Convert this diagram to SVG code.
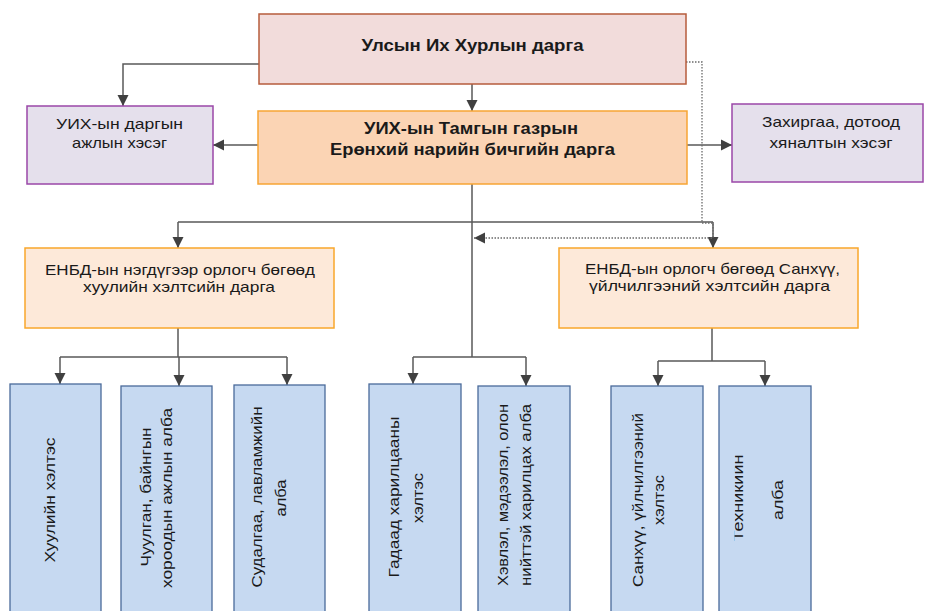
<svg xmlns="http://www.w3.org/2000/svg" width="925" height="611" viewBox="0 0 925 611">
<style>
text{font-family:"Liberation Sans",Arial,sans-serif;fill:#1a1a1a;text-anchor:middle}
.b{font-weight:bold;font-size:16px}
.n{font-size:15px}
.r{font-size:15px}
.top{fill:#f2dcdb;stroke:#b65c3c;stroke-width:1.5}
.sec{fill:#fbd4b4;stroke:#f7a534;stroke-width:1.5}
.pur{fill:#e5e0ec;stroke:#9a47a8;stroke-width:1.5}
.org{fill:#fde9d9;stroke:#f9a72b;stroke-width:1.5}
.blu{fill:#c6d9f1;stroke:#4a6a9a;stroke-width:1.3}
.ln{fill:none;stroke:#595959;stroke-width:1.5}
.dot{fill:none;stroke:#6a6a6a;stroke-width:1.3;stroke-dasharray:1.5 1.5}
</style>
<defs>
<marker id="ah" markerUnits="userSpaceOnUse" markerWidth="12" markerHeight="12" refX="11" refY="6" orient="auto">
<path d="M0,0.5 L11,6 L0,11.5 z" fill="#404040"/>
</marker>
<clipPath id="clipT" clipPathUnits="userSpaceOnUse"><rect x="734.5" y="380" width="30" height="240"/></clipPath>
</defs>

<g id="connectors">
<path class="ln" d="M472,84 V111" marker-end="url(#ah)"/>
<path class="ln" d="M259,64 H123 V106" marker-end="url(#ah)"/>
<path class="ln" d="M258,145 H213" marker-end="url(#ah)"/>
<path class="ln" d="M687,145 H732" marker-end="url(#ah)"/>
<path class="ln" d="M472,184 V357"/>
<path class="ln" d="M178,222 H713"/>
<path class="ln" d="M178,222 V248" marker-end="url(#ah)"/>
<path class="ln" d="M713,222 V248" marker-end="url(#ah)"/>
<path class="ln" d="M178,328 V357"/>
<path class="ln" d="M60,357 H287"/>
<path class="ln" d="M60,357 V384" marker-end="url(#ah)"/>
<path class="ln" d="M179,357 V386" marker-end="url(#ah)"/>
<path class="ln" d="M287,357 V385" marker-end="url(#ah)"/>
<path class="ln" d="M413,357 H526"/>
<path class="ln" d="M413,357 V384" marker-end="url(#ah)"/>
<path class="ln" d="M526,357 V386" marker-end="url(#ah)"/>
<path class="ln" d="M712,328 V361"/>
<path class="ln" d="M658,361 H765"/>
<path class="ln" d="M658,361 V386" marker-end="url(#ah)"/>
<path class="ln" d="M765,361 V386" marker-end="url(#ah)"/>
<path class="dot" d="M686,62 H702 V223 H713 V238 H474" marker-end="url(#ah)"/>
</g>

<g id="chairman">
<rect class="top" x="259" y="14" width="427" height="70"/>
<text class="b" x="472.5" y="51" textLength="222" lengthAdjust="spacingAndGlyphs">Улсын Их Хурлын дарга</text>
</g>

<g id="secretary-general">
<rect class="sec" x="258" y="111" width="429" height="73"/>
<text class="b" x="471" y="134" textLength="214" lengthAdjust="spacingAndGlyphs">УИХ-ын Тамгын газрын</text>
<text class="b" x="472.5" y="155" textLength="285" lengthAdjust="spacingAndGlyphs">Ерөнхий нарийн бичгийн дарга</text>
</g>

<g id="chair-working-group">
<rect class="pur" x="27" y="106" width="186" height="78"/>
<text class="n" x="119.5" y="129" textLength="127" lengthAdjust="spacingAndGlyphs">УИХ-ын даргын</text>
<text class="n" x="119.5" y="148" textLength="95" lengthAdjust="spacingAndGlyphs">ажлын хэсэг</text>
</g>

<g id="admin-control">
<rect class="pur" x="732" y="104" width="191" height="78"/>
<text class="n" x="831" y="127" textLength="138" lengthAdjust="spacingAndGlyphs">Захиргаа, дотоод</text>
<text class="n" x="831" y="148" textLength="123" lengthAdjust="spacingAndGlyphs">хяналтын хэсэг</text>
</g>

<g id="first-deputy">
<rect class="org" x="25" y="248" width="309" height="80"/>
<text class="n" x="180" y="275" textLength="270" lengthAdjust="spacingAndGlyphs">ЕНБД-ын нэгдүгээр орлогч бөгөөд</text>
<text class="n" x="179" y="292" textLength="192" lengthAdjust="spacingAndGlyphs">хуулийн хэлтсийн дарга</text>
</g>

<g id="deputy-finance">
<rect class="org" x="559" y="248" width="299" height="80"/>
<text class="n" x="712.5" y="274" textLength="255" lengthAdjust="spacingAndGlyphs">ЕНБД-ын орлогч бөгөөд Санхүү,</text>
<text class="n" x="709.5" y="291" textLength="241" lengthAdjust="spacingAndGlyphs">үйлчилгээний хэлтсийн дарга</text>
</g>

<g id="law-dept">
<rect class="blu" x="10" y="384" width="91" height="232"/>
<text class="r" transform="translate(55,500) rotate(-90)" textLength="125" lengthAdjust="spacingAndGlyphs">Хуулийн хэлтэс</text>
</g>

<g id="session-office">
<rect class="blu" x="121" y="386" width="91" height="230"/>
<text class="r" transform="translate(151,497) rotate(-90)" textLength="139" lengthAdjust="spacingAndGlyphs">Чуулган, байнгын</text>
<text class="r" transform="translate(172,498) rotate(-90)" textLength="180" lengthAdjust="spacingAndGlyphs">хороодын ажлын алба</text>
</g>

<g id="research-office">
<rect class="blu" x="234" y="385" width="91" height="231"/>
<text class="r" transform="translate(262,497) rotate(-90)" textLength="181" lengthAdjust="spacingAndGlyphs">Судалгаа, лавламжийн</text>
<text class="r" transform="translate(286,498) rotate(-90)" textLength="37" lengthAdjust="spacingAndGlyphs">алба</text>
</g>

<g id="foreign-relations">
<rect class="blu" x="369" y="384" width="92" height="232"/>
<text class="r" transform="translate(399,497) rotate(-90)" textLength="161" lengthAdjust="spacingAndGlyphs">Гадаад харилцааны</text>
<text class="r" transform="translate(423,498) rotate(-90)" textLength="50" lengthAdjust="spacingAndGlyphs">хэлтэс</text>
</g>

<g id="press-office">
<rect class="blu" x="478" y="386" width="92" height="230"/>
<text class="r" transform="translate(508,495) rotate(-90)" textLength="182" lengthAdjust="spacingAndGlyphs">Хэвлэл, мэдээлэл, олон</text>
<text class="r" transform="translate(531,495) rotate(-90)" textLength="182" lengthAdjust="spacingAndGlyphs">нийттэй харилцах алба</text>
</g>

<g id="finance-dept">
<rect class="blu" x="611" y="386" width="92" height="230"/>
<text class="r" transform="translate(643,500) rotate(-90)" textLength="174" lengthAdjust="spacingAndGlyphs">Санхүү, үйлчилгээний</text>
<text class="r" transform="translate(664,500) rotate(-90)" textLength="50" lengthAdjust="spacingAndGlyphs">хэлтэс</text>
</g>

<g id="technical-office">
<rect class="blu" x="719" y="386" width="92" height="230"/>
<g clip-path="url(#clipT)">
<text class="r" transform="translate(743,498) rotate(-90)" textLength="87" lengthAdjust="spacingAndGlyphs">Техникийн</text>
</g>
<text class="r" transform="translate(783,500) rotate(-90)" textLength="40" lengthAdjust="spacingAndGlyphs">алба</text>
</g>
</svg>
